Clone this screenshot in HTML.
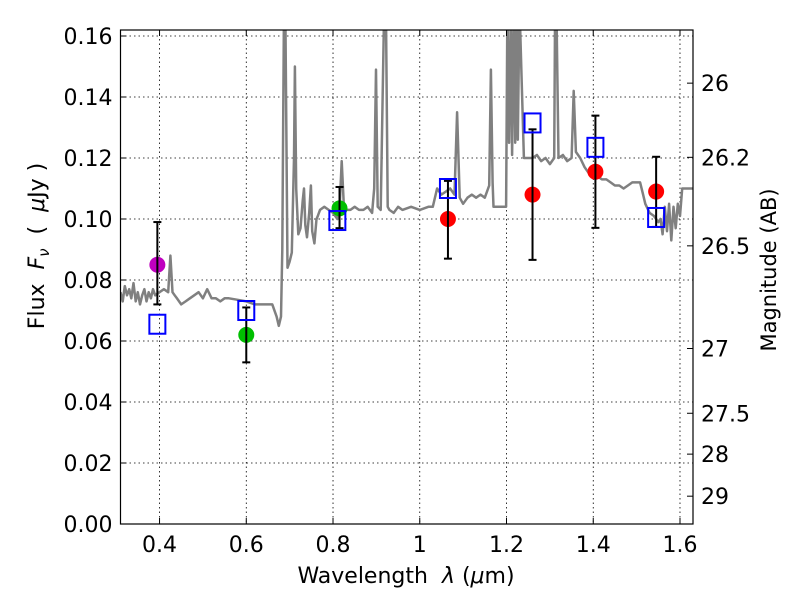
<!DOCTYPE html>
<html><head><meta charset="utf-8"><style>
body{margin:0;background:#fff}
svg text{font-family:"DejaVu Sans","Liberation Sans",sans-serif;fill:#000;white-space:pre}
</style></head><body>
<svg id="chart" width="800" height="600" viewBox="0 0 800 600" xmlns="http://www.w3.org/2000/svg">
<defs><clipPath id="clip"><rect x="120.5" y="30" width="572.5" height="494"/></clipPath></defs>
<rect x="0" y="0" width="800" height="600" fill="#fff"/>
<g id="grid"></g>
<g id="spec" clip-path="url(#clip)"></g>
<g id="marks"></g>
<rect x="120.5" y="30" width="572.5" height="494" fill="none" stroke="#000" stroke-width="1.2"/>
<g id="axes"></g>
<text x="406" y="583" font-size="22" text-anchor="middle">Wavelength&#160;&#160;<tspan font-style="italic">λ</tspan>&#160;(<tspan font-style="italic">μ</tspan>m)</text>
<text transform="translate(44,246) rotate(-90)" font-size="22" text-anchor="middle">Flux&#160;&#160;<tspan font-style="italic">F</tspan><tspan font-style="italic" font-size="15" dy="5">ν</tspan><tspan dy="-5">&#160;&#160;(&#160;&#160;</tspan><tspan font-style="italic">μ</tspan>Jy&#160;)</text>
<text transform="translate(776,270) rotate(-90)" font-size="21" text-anchor="middle">Magnitude (AB)</text>
</svg>
<script>
const xTicks=[0.4,0.6,0.8,1.0,1.2,1.4,1.6];
const xTickLabels=["0.4","0.6","0.8","1","1.2","1.4","1.6"];
const yTicks=[0,0.02,0.04,0.06,0.08,0.10,0.12,0.14,0.16];
const yTickLabels=["0.00","0.02","0.04","0.06","0.08","0.10","0.12","0.14","0.16"];
const magTicks=[26,26.2,26.5,27,27.5,28,29];
const magTickLabels=["26","26.2","26.5","27","27.5","28","29"];
const specWave=[0.31,0.315,0.32,0.325,0.33,0.335,0.34,0.345,0.35,0.355,0.36,0.365,0.37,0.375,0.38,0.385,0.39,0.40,0.41,0.42,0.425,0.43,0.435,0.44,0.45,0.46,0.47,0.48,0.49,0.50,0.51,0.52,0.53,0.54,0.55,0.56,0.58,0.60,0.62,0.64,0.66,0.67,0.675,0.68,0.683,0.687,0.69,0.695,0.70,0.705,0.71,0.712,0.715,0.72,0.725,0.73,0.733,0.736,0.74,0.745,0.749,0.752,0.757,0.762,0.765,0.77,0.78,0.79,0.80,0.81,0.815,0.82,0.825,0.83,0.84,0.85,0.86,0.87,0.88,0.89,0.895,0.899,0.903,0.91,0.918,0.922,0.926,0.93,0.94,0.95,0.96,0.98,1.0,1.02,1.03,1.04,1.05,1.06,1.07,1.08,1.086,1.092,1.10,1.11,1.12,1.13,1.14,1.15,1.16,1.164,1.168,1.17,1.18,1.19,1.199,1.202,1.206,1.21,1.213,1.217,1.22,1.223,1.226,1.23,1.24,1.25,1.26,1.27,1.28,1.29,1.30,1.305,1.31,1.312,1.315,1.32,1.33,1.34,1.35,1.355,1.36,1.37,1.38,1.39,1.40,1.41,1.42,1.43,1.44,1.45,1.46,1.47,1.48,1.49,1.50,1.508,1.515,1.52,1.53,1.54,1.55,1.555,1.56,1.565,1.57,1.575,1.58,1.585,1.59,1.595,1.60,1.605,1.61,1.62,1.63];
const specFlux=[0.076,0.073,0.078,0.075,0.077,0.074,0.079,0.073,0.076,0.072,0.075,0.077,0.073,0.076,0.074,0.077,0.075,0.076,0.077,0.076,0.088,0.076,0.075,0.074,0.072,0.073,0.074,0.075,0.076,0.074,0.077,0.074,0.074,0.073,0.074,0.074,0.0735,0.073,0.072,0.072,0.072,0.068,0.065,0.068,0.09,0.17,0.17,0.084,0.086,0.089,0.12,0.150,0.11,0.095,0.097,0.106,0.110,0.098,0.094,0.102,0.111,0.096,0.092,0.100,0.101,0.103,0.104,0.103,0.102,0.100,0.103,0.119,0.104,0.103,0.103,0.104,0.103,0.103,0.104,0.102,0.110,0.149,0.104,0.103,0.17,0.17,0.104,0.103,0.102,0.104,0.103,0.104,0.103,0.104,0.104,0.110,0.108,0.109,0.110,0.108,0.135,0.107,0.105,0.107,0.108,0.107,0.108,0.107,0.111,0.149,0.112,0.104,0.104,0.104,0.104,0.17,0.125,0.17,0.121,0.17,0.125,0.17,0.126,0.17,0.12,0.120,0.120,0.121,0.119,0.120,0.118,0.119,0.12,0.17,0.17,0.12,0.121,0.119,0.12,0.142,0.122,0.120,0.117,0.115,0.114,0.114,0.113,0.113,0.112,0.111,0.111,0.110,0.111,0.112,0.112,0.112,0.108,0.105,0.102,0.101,0.099,0.1,0.095,0.104,0.096,0.105,0.093,0.104,0.097,0.105,0.101,0.110,0.110,0.110,0.110];
const purpleWave=[0.395];const purpleFlux=[0.085];const purpleLo=[0.072];const purpleHi=[0.099];
const greenWave=[0.60,0.815];const greenFlux=[0.062,0.1035];const greenLo=[0.053,0.097];const greenHi=[0.071,0.1105];
const redWave=[1.065,1.26,1.405,1.545];const redFlux=[0.100,0.108,0.1155,0.109];const redLo=[0.087,0.0866,0.0971,0.0974];const redHi=[0.1125,0.1294,0.1339,0.1204];
const modelWave=[0.395,0.60,0.81,1.065,1.26,1.405,1.545];const modelFlux=[0.0655,0.070,0.0995,0.110,0.1315,0.1235,0.1005];

const NS="http://www.w3.org/2000/svg";
const X0=120.5,X1=693,XMIN=0.31,XMAX=1.63,Y0=524,YT=30,YMIN=0,YMAX=0.16197;
const xs=v=>X0+(v-XMIN)/(XMAX-XMIN)*(X1-X0);
const ys=v=>Y0-(v-YMIN)/(YMAX-YMIN)*(Y0-YT);
const magToFlux=m=>Math.pow(10,(23.9-m)/2.5);
function mk(tag,attrs,parent){const e=document.createElementNS(NS,tag);for(const k in attrs)e.setAttribute(k,attrs[k]);parent.appendChild(e);return e;}
const grid=document.getElementById('grid'),axes=document.getElementById('axes'),spec=document.getElementById('spec'),marks=document.getElementById('marks');
xTicks.forEach((t,i)=>{const x=xs(t);
 const g=mk('line',{x1:x,x2:x,y1:YT,y2:Y0,stroke:'#000','stroke-width':0.8,'stroke-dasharray':'1.5,3'},grid);
 
 
 mk('line',{x1:x,x2:x,y1:Y0,y2:Y0-6,stroke:'#000'},axes);
 mk('line',{x1:x,x2:x,y1:YT,y2:YT+6,stroke:'#000'},axes);
 const tx=mk('text',{x:x,y:Y0+28,'font-size':22,'text-anchor':'middle'},axes);tx.textContent=xTickLabels[i];
 
 });
yTicks.forEach((t,i)=>{const y=ys(t);
 const g=mk('line',{x1:X0,x2:X1,y1:y,y2:y,stroke:'#000','stroke-width':0.8,'stroke-dasharray':'1.5,3'},grid);
 
 
 mk('line',{x1:X0,x2:X0+6,y1:y,y2:y,stroke:'#000'},axes);
 const tx=mk('text',{x:X0-8,y:y+8,'font-size':22,'text-anchor':'end'},axes);tx.textContent=yTickLabels[i];
 
 });
magTicks.forEach((m,i)=>{const y=ys(magToFlux(m));
 mk('line',{x1:X1,x2:X1-6,y1:y,y2:y,stroke:'#000'},axes);
 const tx=mk('text',{x:X1+8,y:y+8,'font-size':22},axes);tx.textContent=magTickLabels[i];
 
 });
const pts=specWave.map((w,i)=>xs(w).toFixed(1)+','+ys(specFlux[i]).toFixed(1)).join(' ');
const pl=mk('polyline',{points:pts,fill:'none',stroke:'#808080','stroke-width':2.5,'stroke-linejoin':'round'},spec);


function errbars(W,F,L,H,color,name){W.forEach((w,i)=>{const x=xs(w);
 const g=mk('g',{},marks);
 
 
 mk('circle',{cx:x,cy:ys(F[i]),r:8,fill:color},g);
 mk('line',{x1:x,x2:x,y1:ys(L[i]),y2:ys(H[i]),stroke:'#000','stroke-width':2},g);
 mk('line',{x1:x-4,x2:x+4,y1:ys(L[i]),y2:ys(L[i]),stroke:'#000','stroke-width':2},g);
 mk('line',{x1:x-4,x2:x+4,y1:ys(H[i]),y2:ys(H[i]),stroke:'#000','stroke-width':2},g);});}
errbars(purpleWave,purpleFlux,purpleLo,purpleHi,'#bf00bf','purple-point');
errbars(greenWave,greenFlux,greenLo,greenHi,'#00bf00','green-point');
errbars(redWave,redFlux,redLo,redHi,'#ff0000','red-point');
modelWave.forEach((w,i)=>{const r=mk('rect',{x:xs(w)-8,y:ys(modelFlux[i])-9.5,width:16,height:19,fill:'none',stroke:'#0000ff','stroke-width':2},marks);
 
 });
</script>
</body></html>
